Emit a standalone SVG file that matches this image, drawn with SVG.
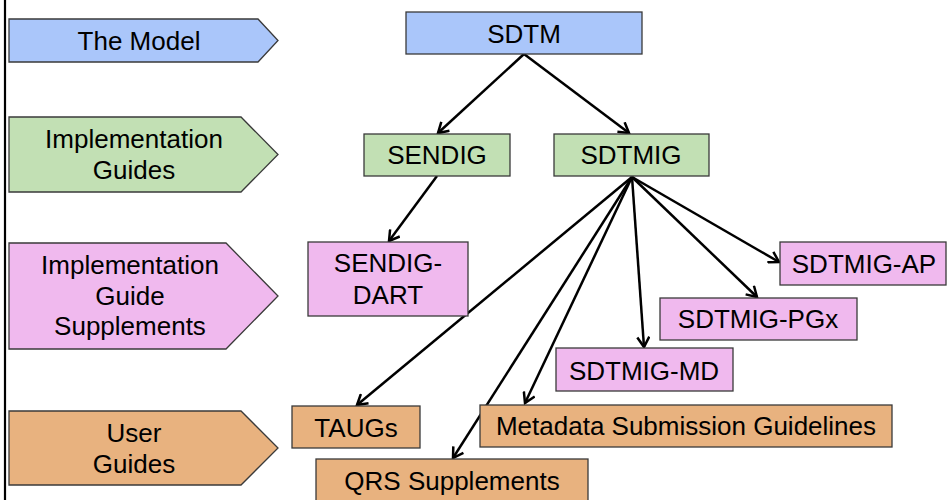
<svg xmlns="http://www.w3.org/2000/svg" width="948" height="500" viewBox="0 0 948 500">
<style>
text{font-family:"Liberation Sans",Arial,sans-serif;font-size:26px;fill:#000;text-anchor:middle}
.box{stroke:#3a3a3a;stroke-width:1.3}
.blue{fill:#AAC6FA}.green{fill:#C2E0B4}.pink{fill:#F0B9EE}.orange{fill:#E8B27F}
.conn{stroke:#000;stroke-width:2.5;fill:none;marker-end:url(#arr)}
</style>
<defs>
<marker id="arr" markerUnits="userSpaceOnUse" markerWidth="14" markerHeight="14" refX="11" refY="7" orient="auto" viewBox="0 0 14 14">
<path d="M1,1 L11,7 L1,13" fill="none" stroke="#000" stroke-width="2.5"/>
</marker>
</defs>
<rect width="948" height="500" fill="#fff"/>
<line x1="5" y1="0" x2="5" y2="500" stroke="#000" stroke-width="2.2"/>
<g id="lane-model">
<path class="box blue" d="M9,19 H258 L278,40.5 L258,62 H9 Z"/>
<text x="139" y="50">The Model</text>
</g>
<g id="lane-ig">
<path class="box green" d="M9,117 H241 L278,154.5 L241,192 H9 Z"/>
<text x="134" y="148">Implementation</text>
<text x="134" y="179">Guides</text>
</g>
<g id="lane-igs">
<path class="box pink" d="M9,243 H226 L278,296 L226,349 H9 Z"/>
<text x="130" y="274">Implementation</text>
<text x="130" y="305">Guide</text>
<text x="130" y="335">Supplements</text>
</g>
<g id="lane-ug">
<path class="box orange" d="M9,411 H241 L278,448 L241,485 H9 Z"/>
<text x="134" y="442">User</text>
<text x="134" y="473">Guides</text>
</g>
<g id="connectors">
<line class="conn" x1="524" y1="54" x2="438" y2="133"/>
<line class="conn" x1="524" y1="54" x2="629" y2="133"/>
<line class="conn" x1="437" y1="176" x2="389" y2="241"/>
<line class="conn" x1="632" y1="177" x2="779" y2="262"/>
<line class="conn" x1="632" y1="177" x2="757" y2="297"/>
<line class="conn" x1="632" y1="177" x2="644" y2="347"/>
<line class="conn" x1="632" y1="177" x2="357" y2="405"/>
<line class="conn" x1="632" y1="177" x2="525" y2="403"/>
<line class="conn" x1="632" y1="177" x2="453" y2="458"/>
</g>
<g id="SDTM">
<rect class="box blue" x="406" y="12" width="236" height="42"/>
<text x="524" y="43">SDTM</text>
</g>
<g id="SENDIG">
<rect class="box green" x="364" y="134" width="146" height="42"/>
<text x="437" y="164">SENDIG</text>
</g>
<g id="SDTMIG">
<rect class="box green" x="554" y="134" width="155" height="42"/>
<text x="631" y="164">SDTMIG</text>
</g>
<g id="SENDIG-DART">
<rect class="box pink" x="308" y="242" width="160" height="74"/>
<text x="388" y="272">SENDIG-</text>
<text x="388" y="304">DART</text>
</g>
<g id="SDTMIG-AP">
<rect class="box pink" x="780" y="242" width="166" height="43"/>
<text x="864" y="273">SDTMIG-AP</text>
</g>
<g id="SDTMIG-PGx">
<rect class="box pink" x="660" y="298" width="197" height="42"/>
<text x="758" y="328">SDTMIG-PGx</text>
</g>
<g id="SDTMIG-MD">
<rect class="box pink" x="556" y="348" width="177" height="43"/>
<text x="644" y="380">SDTMIG-MD</text>
</g>
<g id="TAUGs">
<rect class="box orange" x="292" y="406" width="128" height="42"/>
<text x="356" y="437">TAUGs</text>
</g>
<g id="Metadata">
<rect class="box orange" x="480" y="405" width="412" height="42"/>
<text x="686" y="435">Metadata Submission Guidelines</text>
</g>
<g id="QRS">
<rect class="box orange" x="316" y="459" width="272" height="45"/>
<text x="452" y="490">QRS Supplements</text>
</g>
</svg>
